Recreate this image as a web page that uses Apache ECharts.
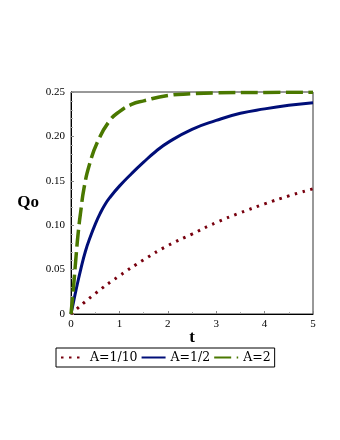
<!DOCTYPE html>
<html>
<head>
<meta charset="utf-8">
<script src="https://cdn.jsdelivr.net/npm/echarts@6/dist/echarts.min.js"></script>
<style>
  html, body { margin: 0; padding: 0; background: #fff; }
  #chart { width: 340px; height: 440px; }
</style>
</head>
<body>
<div id="chart"></div>
<script>
// values
const tRed = [0, 0.5, 1.0, 1.5, 2.0, 2.5, 3.0, 3.5, 4.0, 4.5, 5.0];
const qRed = [0, 0.023, 0.043, 0.061, 0.077, 0.090, 0.103, 0.114, 0.124, 0.133, 0.141];

const tBlue = [0, 0.05, 0.1, 0.2, 0.3, 0.4, 0.5, 0.6, 0.7, 0.8, 1.0, 1.25, 1.5, 1.75, 2.0, 2.5, 3.0, 3.5, 4.0, 4.5, 5.0];
const qBlue = [0, 0.013, 0.026, 0.050, 0.071, 0.087, 0.101, 0.113, 0.123, 0.131, 0.144, 0.158, 0.171, 0.183, 0.193, 0.208, 0.218, 0.226, 0.231, 0.235, 0.238];

const tGreen = [0, 0.05, 0.1, 0.15, 0.2, 0.27, 0.38, 0.55, 0.79, 1.0, 1.25, 1.5, 2.0, 2.5, 3.0, 4.0, 5.0];
const qGreen = [0, 0.029, 0.062, 0.092, 0.115, 0.142, 0.168, 0.194, 0.217, 0.228, 0.236, 0.240, 0.246, 0.248, 0.249, 0.2495, 0.2498];

const seriesNames = ['A=1/10', 'A=1/2', 'A=2'];
const xTicks = [0, 1, 2, 3, 4, 5];
const yTicks = [0, 0.05, 0.10, 0.15, 0.20, 0.25];

function pairs(ts, qs) {
  return ts.map((t, i) => [t, qs[i]]);
}

const serif = 'Liberation Serif';
let chart = echarts.init(document.getElementById('chart'));
chart.setOption({
  animation: false,
  grid: {
    left: 71,
    right: 27,
    top: 92,
    bottom: 126,
    show: true,
    borderColor: '#333',
    borderWidth: 1
  },
  legend: {
    data: seriesNames,
    left: 56,
    top: 348,
    padding: [3, 4],
    itemGap: 3,
    itemWidth: 24,
    itemHeight: 10,
    itemStyle: { opacity: 0 },
    borderColor: '#000',
    borderWidth: 1,
    textStyle: { fontFamily: 'DejaVu Serif', fontSize: 12.5, color: '#000' }
  },
  xAxis: {
    type: 'value',
    min: 0,
    max: 5,
    interval: 1,
    name: 't',
    nameLocation: 'middle',
    nameGap: 15,
    nameMoveOverlap: false,
    nameTextStyle: { fontFamily: serif, fontSize: 17, fontWeight: 'bold', color: '#000' },
    axisLine: { lineStyle: { color: '#000' } },
    axisTick: { inside: true, length: 3, lineStyle: { color: '#888' } },
    minorTick: { show: true, splitNumber: 2, length: 2, lineStyle: { color: '#aaa' } },
    splitLine: { show: false },
    axisLabel: {
      margin: 5,
      fontFamily: serif,
      fontSize: 11,
      color: '#000',
      formatter: v => xTicks.includes(v) ? String(v) : ''
    }
  },
  yAxis: {
    type: 'value',
    min: 0,
    max: 0.25,
    interval: 0.05,
    name: 'Qo',
    nameLocation: 'middle',
    nameRotate: 0,
    nameGap: 32,
    nameMoveOverlap: false,
    nameTextStyle: { fontFamily: serif, fontSize: 17, fontWeight: 'bold', color: '#000', padding: [6, 0, 0, 0] },
    axisLine: { show: true, lineStyle: { color: '#000' } },
    axisTick: { show: true, inside: true, length: 3, lineStyle: { color: '#888' } },
    minorTick: { show: true, splitNumber: 5, length: 2, lineStyle: { color: '#aaa' } },
    splitLine: { show: false },
    axisLabel: {
      margin: 6,
      fontFamily: serif,
      fontSize: 11,
      color: '#000',
      formatter: v => {
        const k = yTicks.findIndex(y => Math.abs(y - v) < 1e-9);
        if (k < 0) return '';
        return v === 0 ? '0' : v.toFixed(2);
      }
    }
  },
  series: [
    {
      name: seriesNames[0],
      type: 'line',
      smooth: true,
      symbol: 'none',
      data: pairs(tRed, qRed),
      lineStyle: { color: '#78000E', width: 3, type: [2.5, 5.5] },
      itemStyle: { color: '#78000E' },
      z: 3
    },
    {
      name: seriesNames[1],
      type: 'line',
      smooth: true,
      symbol: 'none',
      data: pairs(tBlue, qBlue),
      lineStyle: { color: '#000E78', width: 3 },
      itemStyle: { color: '#000E78' },
      z: 2
    },
    {
      name: seriesNames[2],
      type: 'line',
      smooth: true,
      symbol: 'none',
      data: pairs(tGreen, qGreen),
      lineStyle: { color: '#4A7800', width: 3.5, type: [17, 5.5] },
      itemStyle: { color: '#4A7800' },
      z: 4
    }
  ]
});
</script>
</body>
</html>
